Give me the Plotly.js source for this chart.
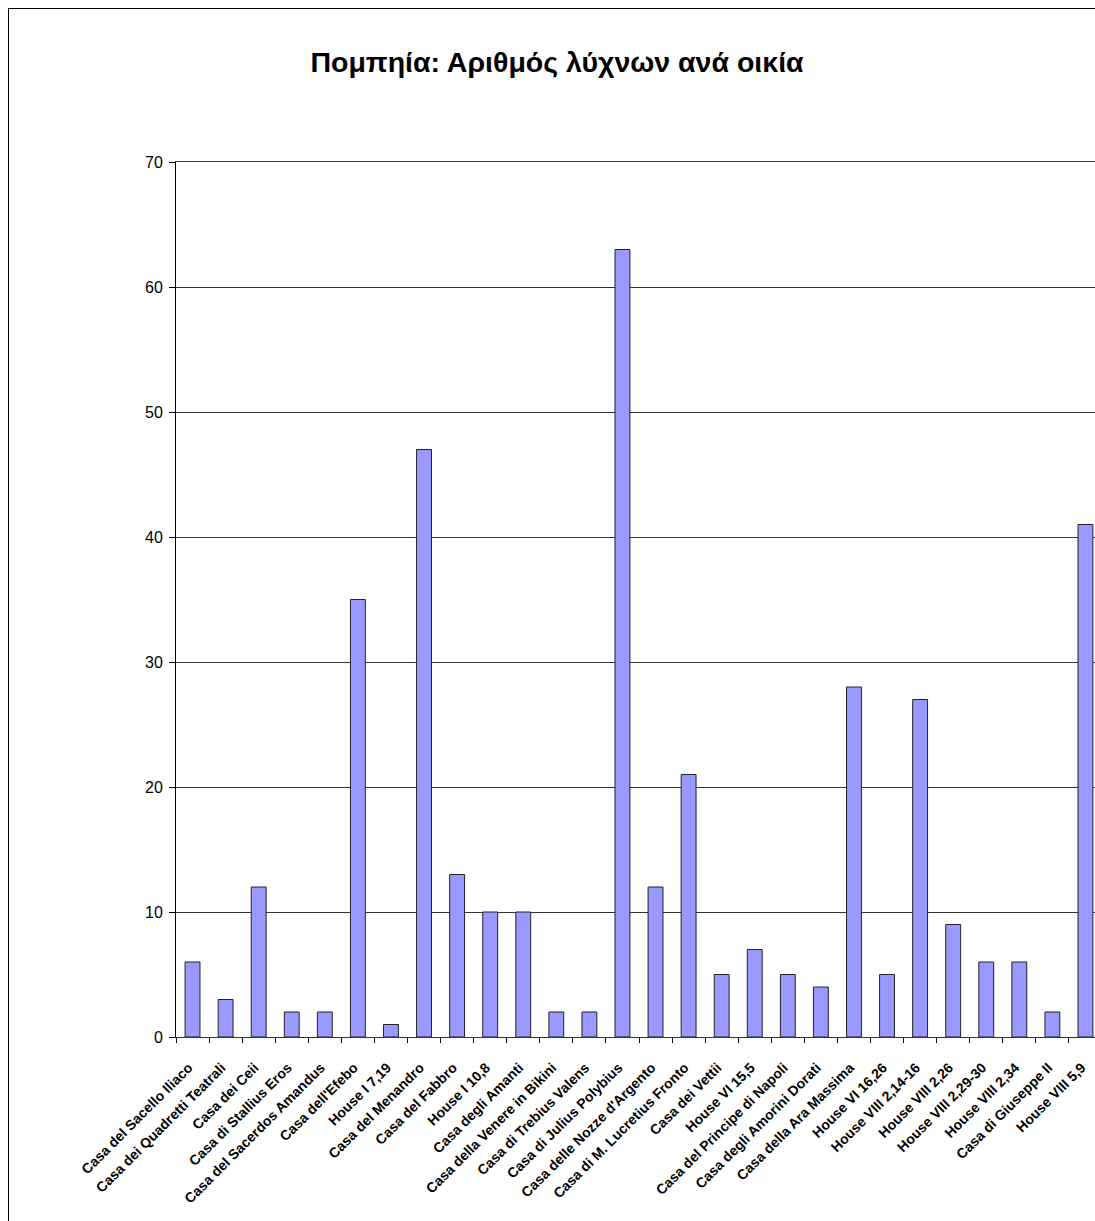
<!DOCTYPE html>
<html>
<head>
<meta charset="utf-8">
<script src="https://cdn.plot.ly/plotly-3.0.1.min.js"></script>
<style>
html,body{margin:0;padding:0;overflow:hidden;background:#fff;}
#frame{position:absolute;left:8px;top:8px;width:1300px;height:1400px;border:1px solid #000;box-sizing:border-box;pointer-events:none;z-index:5;}
#chart{position:absolute;left:0;top:0;}
</style>
</head>
<body>
<div id="chart"></div>
<div id="frame"></div>
<script>
const categories = [
  "Casa del Sacello Iliaco","Casa dei Quadretti Teatrali","Casa dei Ceii","Casa di Stallius Eros",
  "Casa del Sacerdos Amandus","Casa dell'Efebo","House I 7,19","Casa del Menandro","Casa del Fabbro",
  "House I 10,8","Casa degli Amanti","Casa della Venere in Bikini","Casa di Trebius Valens",
  "Casa di Julius Polybius","Casa delle Nozze d'Argento","Casa di M. Lucretius Fronto","Casa dei Vettii",
  "House VI 15,5","Casa del Principe di Napoli","Casa degli Amorini Dorati","Casa della Ara Massima",
  "House VI 16,26","House VIII 2,14-16","House VIII 2,26","House VIII 2,29-30","House VIII 2,34",
  "Casa di Giuseppe II","House VIII 5,9"
];
const lampCounts = [6,3,12,2,2,35,1,47,13,10,10,2,2,63,12,21,5,7,5,4,28,5,27,9,6,6,2,41];
const yTicks = [0,10,20,30,40,50,60,70];
const chartTitle = "Πομπηία: Αριθμός λύχνων ανά οικία";

const W = 1102, H = 1221;
const font = "Arial, 'Liberation Sans', sans-serif";

Plotly.newPlot('chart', [{
  type: 'bar',
  x: categories,
  y: lampCounts,
  marker: {color: '#9999FF', line: {color: '#222', width: 1}},
  hoverinfo: 'x+y'
}], {
  width: W, height: H,
  margin: {l: 176, r: 0, t: 162, b: H - 1037, pad: 0},
  paper_bgcolor: '#fff', plot_bgcolor: '#fff',
  bargap: 0.55,
  showlegend: false,
  title: {text: chartTitle, font: {family: font, size: 28.5, color: '#000', weight: 'bold'},
          xref: 'container', x: 557 / W, xanchor: 'center', yref: 'container', y: 1 - 62 / H, yanchor: 'middle'},
  xaxis: {
    type: 'category', tickangle: -45, tickfont: {family: font, size: 14, color: '#000', weight: 'bold'},
    ticks: 'outside', tickson: 'boundaries', ticklen: 5, tickcolor: '#000',
    ticklabelstandoff: 16, ticklabelshift: -4,
    showline: true, mirror: true, linecolor: '#333', linewidth: 1, showgrid: false, automargin: false
  },
  yaxis: {
    range: [0, 70], tickvals: yTicks, ticktext: yTicks.map(String),
    tickfont: {family: font, size: 16, color: '#000'},
    ticks: 'outside', ticklen: 6, tickcolor: '#000', ticklabelstandoff: 3,
    showline: true, linecolor: '#000', linewidth: 1,
    showgrid: true, gridcolor: '#333', gridwidth: 1, zeroline: false, automargin: false
  }
}, {displayModeBar: false, staticPlot: true});
</script>
</body>
</html>
